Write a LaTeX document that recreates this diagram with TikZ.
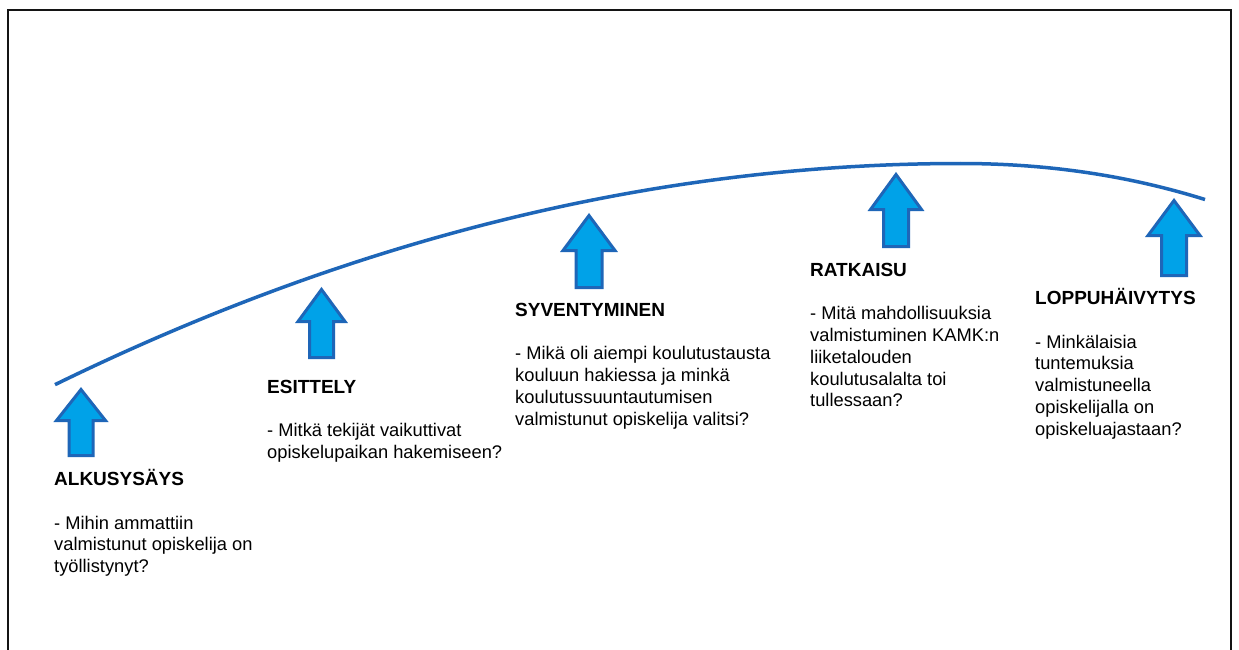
\documentclass[tikz,border=0pt]{standalone}
\usepackage{fontspec}
\setmainfont{Liberation Sans}
\definecolor{arrfill}{RGB}{0,162,232}
\definecolor{arrline}{RGB}{30,102,184}
\definecolor{frameline}{RGB}{20,20,20}
\newcommand\myuparrow[6]{% cx tip base bottom headhalf shafthalf
  \draw[arr] (#1,#2+2.5) -- (#1+#5-1.5,#3-1.5) -- (#1+#6-1.5,#3-1.5)
    -- (#1+#6-1.5,#4-1.5) -- (#1-#6+1.5,#4-1.5) -- (#1-#6+1.5,#3-1.5)
    -- (#1-#5+1.5,#3-1.5) -- cycle;}
\newcommand\headfont{\fontsize{19}{21.7}\selectfont\bfseries}
\tikzset{
  arr/.style={fill=arrfill, draw=arrline, line width=3pt, line join=miter},
  curve/.style={draw=arrline, line width=3.5pt},
  frame/.style={draw=frameline, line width=2pt},
  txt/.style={anchor=base west, inner sep=0pt, align=left,
    font=\fontsize{18.3}{21.7}\selectfont}
}
\begin{document}
\begin{tikzpicture}[x=1pt,y=-1pt]
\useasboundingbox (0,0) rectangle (1239,650);
\fill[white] (0,0) rectangle (1239,650);
\draw[frame] (7.5,655) -- (7.5,10) -- (1231,10) -- (1231,655);
\draw[curve] plot[domain=55:960, samples=80, smooth] (\x,{163.5+2.7*(0.01*\x-9.6)*(0.01*\x-9.6)})
  -- plot[domain=960:1205, samples=30, smooth] (\x,{163.5+5.3*(0.01*\x-9.6)*(0.01*\x-9.6)+0.3*(0.01*\x-9.6)*(0.01*\x-9.6)*(0.01*\x-9.6)});
\myuparrow{81}{387}{422}{457}{26}{13.5}
\myuparrow{321.5}{287}{323}{359}{25}{13.5}
\myuparrow{589}{213}{252}{289}{27.5}{14.5}
\myuparrow{896}{172}{211}{248}{27}{14}
\myuparrow{1174}{198}{237}{277}{27.5}{14}
% base anchor = baseline of last line
\node[txt] (t1) at (54,572.5) {{\headfont ALKUSYSÄYS}\\[21.7pt]- Mihin ammattiin\\valmistunut opiskelija on\\työllistynyt?};
\node[txt] (t2) at (267,458.3) {{\headfont ESITTELY}\\[21.7pt]- Mitkä tekijät vaikuttivat\\opiskelupaikan hakemiseen?};
\node[txt] (t3) at (515,425) {{\headfont SYVENTYMINEN}\\[21.7pt]- Mikä oli aiempi koulutustausta\\kouluun hakiessa ja minkä\\koulutussuuntautumisen\\valmistunut opiskelija valitsi?};
\node[txt] (t4) at (810,406.7) {{\headfont RATKAISU}\\[21.7pt]- Mitä mahdollisuuksia\\valmistuminen KAMK:n\\liiketalouden\\koulutusalalta toi\\tullessaan?};
\node[txt] (t5) at (1035,435) {{\headfont LOPPUHÄIVYTYS}\\[21.7pt]- Minkälaisia\\tuntemuksia\\valmistuneella\\opiskelijalla on\\opiskeluajastaan?};
\end{tikzpicture}
\end{document}
